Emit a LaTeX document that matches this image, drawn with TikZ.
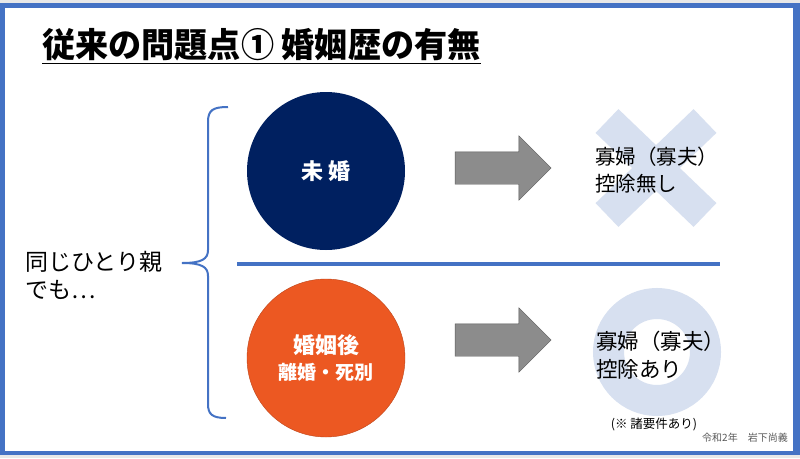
\documentclass[tikz,border=0pt]{standalone}
\usepackage{fontspec}
\setmainfont{Noto Sans CJK JP}
\usetikzlibrary{shapes.arrows}
\definecolor{frameblue}{RGB}{68,114,196}
\definecolor{navy}{RGB}{0,32,96}
\definecolor{burnt}{RGB}{236,88,34}
\definecolor{paleblue}{RGB}{215,224,240}
\definecolor{pagegray}{RGB}{232,232,232}
\begin{document}
\begin{tikzpicture}[
          x=1pt, y=-1pt,
          bubble/.style={circle, minimum size=158pt, inner sep=0pt, text=white,
                         align=center, font=\bfseries\fontsize{22}{28}\selectfont},
          blockarrow/.style={single arrow, fill=gray!90, draw=gray!70!black, thin,
                             minimum height=96pt, inner sep=16pt,
                             single arrow head extend=16pt},
          verdict/.style={anchor=west, align=left, inner sep=0pt,
                          font=\fontsize{20.5}{27}\selectfont},
        ]
          \useasboundingbox (0,0) rectangle (800,458);
          % slide frame
          \fill[pagegray] (0,0) rectangle (800,458);
          \fill[frameblue] (0,3) rectangle (800,455);
          \fill[white] (5,8) rectangle (793,451);

          \node[anchor=west, inner sep=0pt, xscale=0.975, font=\bfseries\fontsize{34}{38}\selectfont]
            (title) at (42,45) {従来の問題点① 婚姻歴の有無};
          \draw[line width=1.6pt] ([yshift=-2pt]title.south west) -- ([yshift=-2pt]title.south east);

          \node[bubble, fill=navy] (single) at (326,171) {未\hspace{5pt}婚};
          \node[bubble, fill=burnt, draw=burnt!80!black, thin] (after) at (326,358)
            {婚姻後\\[-2pt]{\fontsize{19}{24}\selectfont 離婚・死別}};

          \coordinate (splitL) at (237,264);
          \coordinate (splitR) at (720,264);
          \draw[frameblue, line width=4pt] (splitL) -- (splitR);

          \node[blockarrow] (arrA) at (495,168) {};
          \node[blockarrow] (arrB) at (495,340) {};

          % cross and ring behind the results
          \draw[paleblue, line width=33pt] (607,121) -- (705,215);
          \draw[paleblue, line width=33pt] (705,121) -- (607,215);
          \draw[paleblue, line width=31pt] (657,352) circle (48.5);

          \node[verdict] (nodeduct) at (595,170) {寡婦（寡夫）\\控除無し};
          \node[verdict, font=\fontsize{21.5}{28}\selectfont] (deduct) at (596,355)
            {寡婦（寡夫）\\控除あり};
          \node[inner sep=0pt, font=\fontsize{12.5}{14}\selectfont] (cond) at (654,424)
            {(※ 諸要件あり)};
          \node[inner sep=0pt, text=black!65, font=\fontsize{10}{12}\selectfont] (sign) at (745,438)
            {令和2年　岩下尚義};

          \node[anchor=west, align=left, inner sep=0pt, font=\fontsize{23}{28}\selectfont]
            (parent) at (25,275) {同じひとり親\\でも⋯};

          % brace grouping both cases
          \coordinate (braceT) at (228,107);
          \coordinate (braceB) at (226,418);
          \coordinate (braceTip) at (182,263);
          \draw[frameblue, line width=2pt]
            (braceT) .. controls (213,107) and (208,110) .. (208,122)
            -- (208,250) .. controls (208,259) and (202,263) .. (braceTip)
            .. controls (202,263) and (208,267) .. (208,276)
            -- (208,404) .. controls (208,414) and (212,418) .. (braceB);
        \end{tikzpicture}
\end{document}
